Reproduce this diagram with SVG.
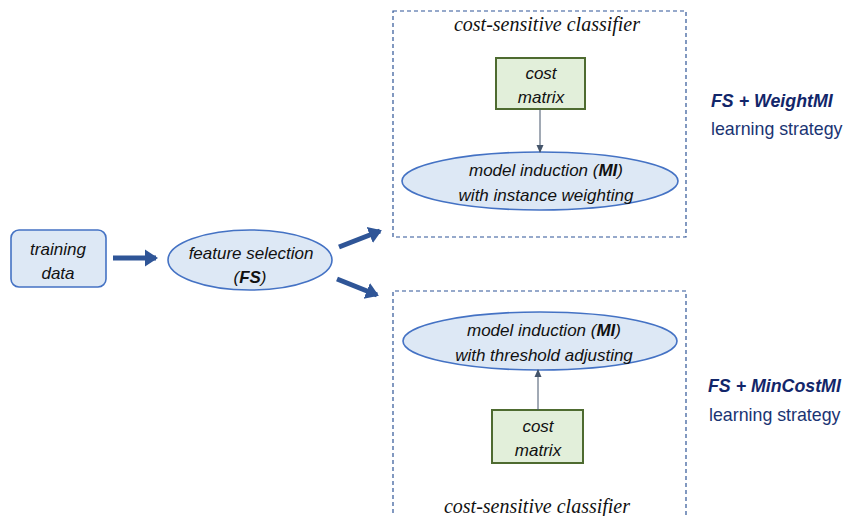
<svg xmlns="http://www.w3.org/2000/svg" width="846" height="516" viewBox="0 0 846 516">
<defs>
<marker id="thick" markerWidth="4" markerHeight="4" refX="2.2" refY="2" orient="auto" markerUnits="strokeWidth">
<path d="M0,0.3 L2.6,2 L0,3.7 Z" fill="#2f5597"/>
</marker>
<marker id="thin" markerWidth="8" markerHeight="8" refX="7" refY="4" orient="auto" markerUnits="userSpaceOnUse">
<path d="M0,0.5 L8,4 L0,7.5 Z" fill="#44546a"/>
</marker>
</defs>
<style>
.it{font-family:"Liberation Sans",Arial,sans-serif;font-style:italic;font-size:17px;fill:#111;text-anchor:middle}
.ser{font-family:"Liberation Serif","Times New Roman",serif;font-style:italic;font-size:20px;fill:#111;text-anchor:middle}
.blue{fill:#dde8f5;stroke:#4472c4;stroke-width:1.6}
.green{fill:#e2efda;stroke:#4e6b30;stroke-width:2}
.dash{fill:none;stroke:#2f5597;stroke-width:1.2;stroke-dasharray:4 3}
.big{stroke:#2f5597;stroke-width:5;fill:none}
.small{stroke:#44546a;stroke-width:1;fill:none}
.strat{font-family:"Liberation Sans",Arial,sans-serif;font-size:17.8px;fill:#1a3473}
.b{font-weight:bold;font-style:italic;fill:#12266a}
</style>
<g id="box-top">
<rect class="dash" x="393" y="11" width="293" height="226"/>
<text class="ser" x="547" y="31">cost-sensitive classifier</text>
</g>
<g id="box-bottom">
<path class="dash" d="M393,520 V291 H686 V520"/>
<text class="ser" x="537" y="513">cost-sensitive classifier</text>
</g>
<g id="training-data">
<rect class="blue" x="11" y="230" width="95" height="57" rx="8"/>
<text class="it" x="58" y="255">training</text>
<text class="it" x="58" y="279">data</text>
</g>
<g id="feature-selection">
<ellipse class="blue" cx="250" cy="260" rx="82" ry="30"/>
<text class="it" x="251" y="259">feature selection</text>
<text class="it" x="250" y="283">(<tspan font-weight="bold">FS</tspan>)</text>
</g>
<g id="cost-matrix-top">
<rect class="green" x="496" y="58" width="89" height="51"/>
<text class="it" x="541" y="79">cost</text>
<text class="it" x="541" y="103">matrix</text>
</g>
<g id="mi-weighting">
<ellipse class="blue" cx="540" cy="181" rx="138" ry="29"/>
<text class="it" x="546" y="176">model induction (<tspan font-weight="bold">MI</tspan>)</text>
<text class="it" x="546" y="201">with instance weighting</text>
</g>
<g id="mi-threshold">
<ellipse class="blue" cx="540" cy="341" rx="137" ry="29"/>
<text class="it" x="544" y="336">model induction (<tspan font-weight="bold">MI</tspan>)</text>
<text class="it" x="544" y="361">with threshold adjusting</text>
</g>
<g id="cost-matrix-bottom">
<rect class="green" x="492" y="410" width="91" height="53"/>
<text class="it" x="538" y="432">cost</text>
<text class="it" x="538" y="456">matrix</text>
</g>
<g id="label-weight">
<text class="strat b" x="711" y="107">FS + WeightMI</text>
<text class="strat" x="711" y="135">learning strategy</text>
</g>
<g id="label-mincost">
<text class="strat b" x="708" y="392">FS + MinCostMI</text>
<text class="strat" x="709" y="421">learning strategy</text>
</g>
<g id="connectors">
<line class="big" x1="113" y1="258" x2="156" y2="258" marker-end="url(#thick)"/>
<line class="big" x1="339" y1="247" x2="380" y2="231" marker-end="url(#thick)"/>
<line class="big" x1="337" y1="279" x2="377" y2="295" marker-end="url(#thick)"/>
<line class="small" x1="540" y1="109" x2="540" y2="152" marker-end="url(#thin)"/>
<line class="small" x1="538" y1="410" x2="538" y2="370" marker-end="url(#thin)"/>
</g>
</svg>
